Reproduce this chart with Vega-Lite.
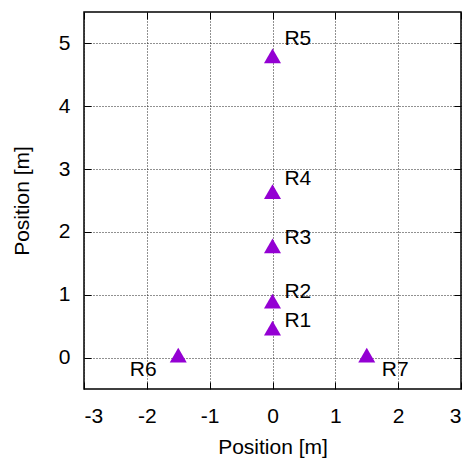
{
  "$schema": "https://vega.github.io/schema/vega-lite/v6.json",
  "width": 377,
  "height": 377,
  "autosize": {"type": "none"},
  "padding": {"left": 84, "top": 12, "right": 10, "bottom": 70},
  "background": "white",
  "config": {
    "view": {"stroke": "#000", "strokeWidth": 1.5},
    "font": "Liberation Sans",
    "axis": {
      "labelFont": "Liberation Sans",
      "labelFontSize": 21,
      "labelColor": "#000",
      "labelExpr": "toString(datum.value)",
      "titleFont": "Liberation Sans",
      "titleFontSize": 21,
      "titleFontWeight": "normal",
      "titleColor": "#000",
      "domain": false,
      "tickColor": "#000",
      "tickWidth": 1,
      "tickSize": -7,
      "gridColor": "#222",
      "gridDash": [1, 2],
      "gridWidth": 1
    }
  },
  "datasets": {
    "receivers": [
      {"name": "R1", "x": 0, "y": 0.43, "lx": 0.19, "ly": 0.58},
      {"name": "R2", "x": 0, "y": 0.86, "lx": 0.19, "ly": 1.04},
      {"name": "R3", "x": 0, "y": 1.74, "lx": 0.19, "ly": 1.91},
      {"name": "R4", "x": 0, "y": 2.6, "lx": 0.19, "ly": 2.85},
      {"name": "R5", "x": 0, "y": 4.76, "lx": 0.19, "ly": 5.07},
      {"name": "R6", "x": -1.5, "y": 0, "lx": -2.27, "ly": -0.2},
      {"name": "R7", "x": 1.5, "y": 0, "lx": 1.74, "ly": -0.2}
    ]
  },
  "data": {"name": "receivers"},
  "layer": [
    {
      "mark": {"type": "point", "shape": "triangle-up", "filled": true, "size": 290, "color": "#9400d3", "opacity": 1, "yOffset": -2.5},
      "encoding": {
        "x": {
          "field": "x", "type": "quantitative",
          "scale": {"domain": [-3, 3], "nice": false, "zero": false},
          "axis": {"orient": "bottom", "values": [-3, -2, -1, 0, 1, 2, 3], "grid": true, "labelPadding": 23, "title": "Position [m]", "titleX": 188.5, "titleY": 64, "titleBaseline": "alphabetic", "titleAlign": "center"}
        },
        "y": {
          "field": "y", "type": "quantitative",
          "scale": {"domain": [-0.5, 5.5], "nice": false, "zero": false},
          "axis": {"orient": "left", "values": [0, 1, 2, 3, 4, 5], "grid": true, "labelPadding": 21, "title": "Position [m]", "titleX": -56, "titleY": 188.5, "titleBaseline": "alphabetic", "titleAlign": "center", "titleAngle": -90}
        }
      }
    },
    {
      "mark": {"type": "text", "align": "left", "baseline": "middle", "fontSize": 21, "font": "Liberation Sans", "color": "#000"},
      "encoding": {
        "x": {
          "field": "lx", "type": "quantitative",
          "axis": {"orient": "top", "values": [-3, -2, -1, 0, 1, 2, 3], "grid": false, "labels": false, "title": null}
        },
        "y": {
          "field": "ly", "type": "quantitative",
          "axis": {"orient": "right", "values": [0, 1, 2, 3, 4, 5], "grid": false, "labels": false, "title": null}
        },
        "text": {"field": "name"}
      }
    }
  ]
}
